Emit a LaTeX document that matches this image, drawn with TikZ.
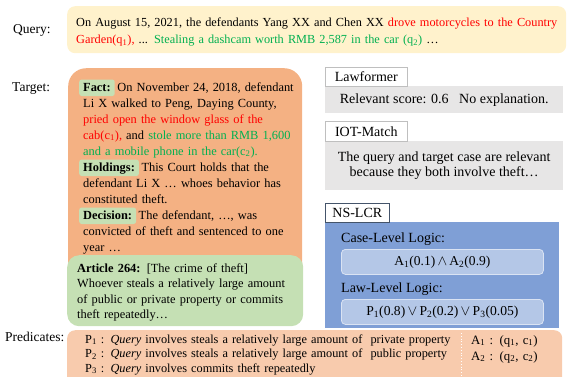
\documentclass[tikz,border=0pt]{standalone}
\usepackage{fontspec}
\setmainfont{Liberation Serif}
\definecolor{qfill}{HTML}{FFF2CC}
\definecolor{tfill}{HTML}{F4B183}
\definecolor{afill}{HTML}{C5E0B4}
\definecolor{pfill}{HTML}{F8CBAD}
\definecolor{gfill}{HTML}{E7E6E6}
\definecolor{bfill}{HTML}{7F9FD6}
\definecolor{ifill}{HTML}{B4C7E7}
\definecolor{iline}{HTML}{DAE3F3}
\definecolor{hlgreen}{HTML}{C5E0B4}
\definecolor{tred}{HTML}{FF0000}
\definecolor{tgreen}{HTML}{00B050}
\definecolor{lblgrey}{HTML}{BFBFBF}
\definecolor{nsline}{HTML}{44546A}
\newcommand{\rd}[1]{\textcolor{tred}{#1}}
\newcommand{\gn}[1]{\textcolor{tgreen}{#1}}
\newcommand{\sbs}[2]{#1\textsubscript{#2}}
\newcommand{\hlb}[1]{\hspace*{-4pt}\tikz[baseline=(hb.base)]\node[fill=hlgreen,rounded corners=2.5pt,inner xsep=4pt,inner ysep=2.5pt,text height=9pt,text depth=2.5pt](hb){\textbf{#1}};\hspace{-1.5pt}}
\tikzset{
  box/.style={anchor=north west,inner sep=0pt,draw=none},
  lbl/.style={anchor=base west,inner sep=0pt,font=\fontsize{13.5}{16}\selectfont},
  ltxt/.style={anchor=base west,inner sep=0pt,align=left},
  tagbox/.style={box,fill=white,draw=lblgrey,line width=0.6pt,font=\fontsize{14}{16}\selectfont},
  form/.style={anchor=center,inner sep=0pt,font=\fontsize{13.5}{16}\selectfont},
}
\begin{document}
\begin{tikzpicture}[x=1pt,y=-1pt]
\clip (0,0) rectangle (572,376);
\useasboundingbox (0,0) rectangle (572,376);
% labels
\node[lbl] (qlabel) at (13,33) {Query:};
\node[lbl] (tlabel) at (12,91) {Target:};
\node[lbl] (plabel) at (5,341) {Predicates:};
% query
\node[box,fill=qfill,rounded corners=8pt,minimum width=499pt,minimum height=47pt] (query) at (67,6) {};
\node[ltxt,text width=540pt,font=\fontsize{12.3}{17}\selectfont] (qtext) at (76,26.5)
 {On August 15, 2021, the defendants Yang XX and Chen XX \rd{drove motorcycles to the Country}\\
  \rd{Garden(\sbs{q}{1}),} ... \gn{Stealing a dashcam worth RMB 2,587 in the car (\sbs{q}{2})} \dots};
% target
\node[box,fill=tfill,rounded corners=18pt,minimum width=234pt,minimum height=240pt] (target) at (68,68) {};
\node[ltxt,text width=260pt,font=\fontsize{12.4}{16}\selectfont] (ttext) at (83,91)
 {\hlb{Fact:} On November 24, 2018, defendant\\
  Li X walked to Peng, Daying County,\\
  \rd{pried open the window glass of the}\\
  \rd{cab(\sbs{c}{1}),} and \gn{stole more than RMB 1,600}\\
  \gn{and a mobile phone in the car(\sbs{c}{2}).}\\
  \hlb{Holdings:} This Court holds that the\\
  defendant Li X \dots\ whoes behavior has\\
  constituted theft.\\
  \hlb{Decision:} The defendant, \dots, was\\
  convicted of theft and sentenced to one\\
  year \dots};
% article
\node[box,fill=afill,rounded corners=12pt,minimum width=236pt,minimum height=71pt] (article) at (67,255) {};
\node[ltxt,text width=260pt,font=\fontsize{12.4}{15.6}\selectfont] (atext) at (77,272)
 {\textbf{Article 264:} [The crime of theft]\\
  Whoever steals a relatively large amount\\
  of public or private property or commits\\
  theft repeatedly\dots};
% predicates
\node[box,fill=pfill,rounded corners=8pt,minimum width=495pt,minimum height=70pt] (pred) at (67,330) {};
\coordinate (divtop) at (461,333);
\coordinate (divbot) at (461,380);
\draw[white,dotted,line width=0.8pt] (divtop) -- (divbot);
\node[ltxt,text width=440pt,font=\fontsize{12.3}{14.5}\selectfont] (ptext) at (85,343)
 {\sbs{P}{1} : \textit{Query} involves steals a relatively large amount of~ private property\\
  \sbs{P}{2} : \textit{Query} involves steals a relatively large amount of~ public property\\
  \sbs{P}{3} : \textit{Query} involves commits theft repeatedly};
\node[ltxt,text width=90pt,font=\fontsize{12.8}{16}\selectfont] (atoms) at (471,344)
 {\sbs{A}{1} : (\sbs{q}{1}, \sbs{c}{1})\\
  \sbs{A}{2} : (\sbs{q}{2}, \sbs{c}{2})};
% Lawformer
\node[box,fill=gfill,minimum width=238pt,minimum height=27pt] (lawbox) at (325,86) {};
\node[tagbox,minimum width=82pt,minimum height=19pt] (lawtag) at (325,67) {Lawformer};
\node[anchor=center,inner sep=0pt,font=\fontsize{14}{16}\selectfont] (lawtext) at (lawbox.center) {Relevant score: 0.6 \ \ No explanation.};
% IOT-Match
\node[box,fill=gfill,minimum width=238pt,minimum height=49pt] (iotbox) at (325,141) {};
\node[tagbox,minimum width=82pt,minimum height=20pt] (iottag) at (325,121) {IOT-Match};
\node[anchor=center,inner sep=0pt,align=center,font=\fontsize{14}{15.5}\selectfont] (iottext) at (iotbox.center)
 {The query and target case are relevant\\ because they both involve theft\dots};
% NS-LCR
\node[box,fill=bfill,minimum width=234pt,minimum height=106pt] (nsbox) at (325,222) {};
\node[box,fill=white,draw=nsline,line width=0.6pt,minimum width=64pt,minimum height=19pt,font=\fontsize{14}{16}\selectfont] (nstag) at (325,203) {NS-LCR};
\node[lbl,font=\fontsize{14}{16}\selectfont] (caselbl) at (341,242) {Case-Level Logic:};
\node[box,fill=ifill,draw=iline,line width=0.8pt,rounded corners=4pt,minimum width=202pt,minimum height=25pt] (casebox) at (341,249) {};
\node[form] (caseform) at (casebox.center) {\resizebox{96pt}{!}{\sbs{A}{1}(0.1)\,$\wedge$\,\sbs{A}{2}(0.9)}};
\node[lbl,font=\fontsize{14}{16}\selectfont] (lawlbl) at (341,292) {Law-Level Logic:};
\node[box,fill=ifill,draw=iline,line width=0.8pt,rounded corners=4pt,minimum width=202pt,minimum height=25pt] (lawlogic) at (341,299) {};
\node[form] (lawform) at (lawlogic.center) {\resizebox{152pt}{!}{\sbs{P}{1}(0.8)\,$\vee$\,\sbs{P}{2}(0.2)\,$\vee$\,\sbs{P}{3}(0.05)}};
\end{tikzpicture}
\end{document}
